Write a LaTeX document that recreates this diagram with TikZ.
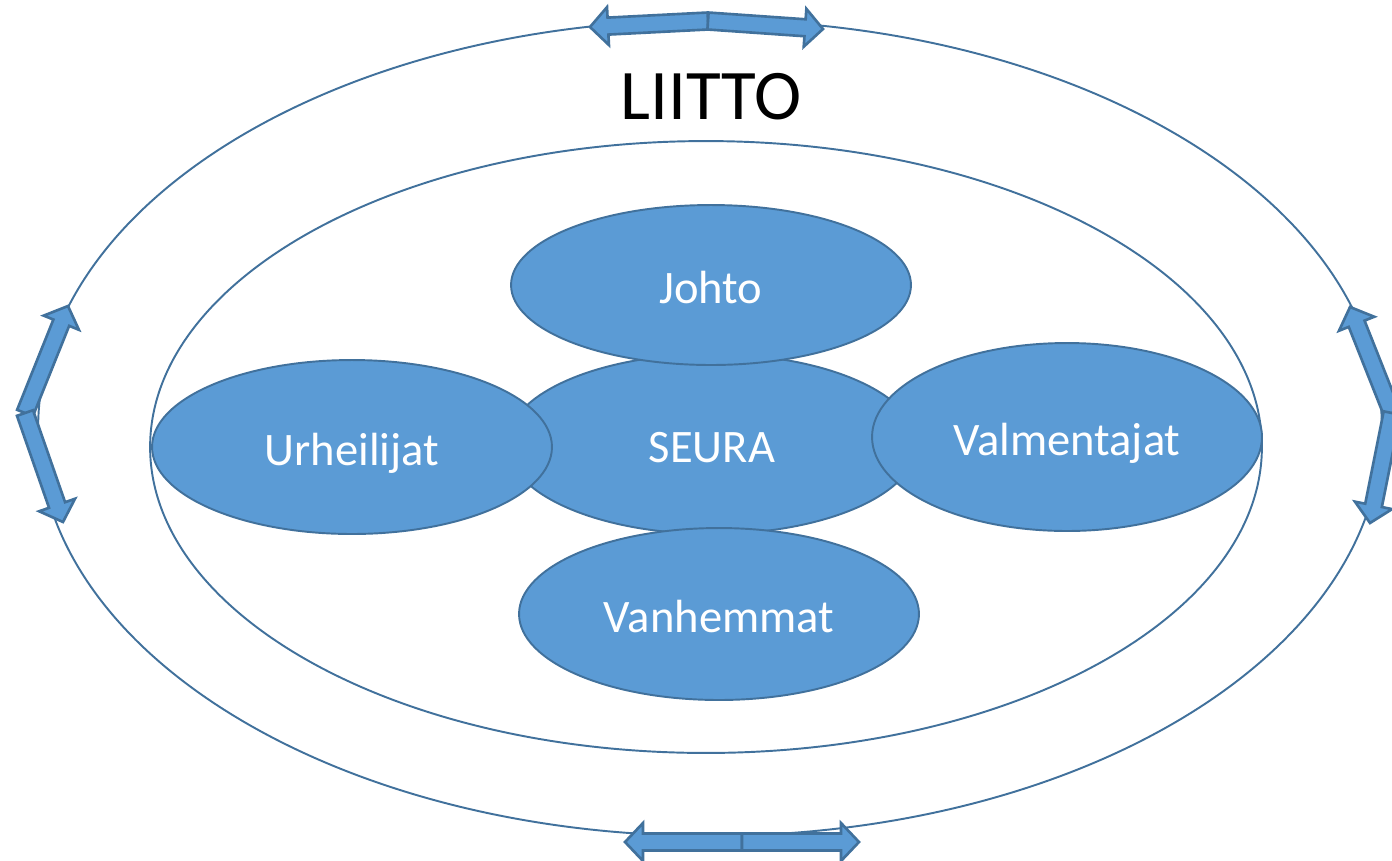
\documentclass[tikz,border=0pt]{standalone}
\usepackage{fontspec}
\setmainfont{Carlito}
\usetikzlibrary{shapes.geometric}
\definecolor{bfill}{HTML}{5B9BD5}
\definecolor{bline}{HTML}{41719C}
\tikzset{
  ring/.style={ellipse, draw=bline, line width=1.1pt, inner sep=0pt},
  blob/.style={ellipse, draw=bline, fill=bfill, line width=1.1pt, inner sep=0pt,
    text=white, font=\fontsize{26.5}{30}\selectfont, text height=21.6pt, text depth=0pt},
  barrow/.style={draw=bline, fill=bfill, line width=1.5pt, line join=miter}
}
\newcommand\blockarrow[4]{%
  \pgfmathsetmacro\baang{atan2(#2-#4,#3-#1)}%
  \pgfmathsetmacro\balen{veclen(#3-#1,#4-#2)}%
  \begin{scope}[shift={(#1,#2)},rotate=\baang]
    \draw[barrow] (0,-8.5) -- (\balen-18,-8.5) -- (\balen-18,-19) -- (\balen,0)
      -- (\balen-18,19) -- (\balen-18,8.5) -- (0,8.5) -- cycle;
  \end{scope}}
\begin{document}
\begin{tikzpicture}[x=0.02cm,y=-0.02cm]
\useasboundingbox (0,0) rectangle (1392,860);
\node[ring, minimum width=26.88cm, minimum height=16.32cm] (liitto) at (710,428) {};
\node[ring, minimum width=22.24cm, minimum height=12.24cm] (inner) at (706,447) {};
\node[font=\fontsize{40.5}{44}\selectfont, inner sep=0pt] (liittolabel) at (711,97) {LIITTO};
\node[blob, minimum width=8.2cm, minimum height=3.6cm] (seura) at (712,444) {SEURA};
\node[blob, minimum width=8cm, minimum height=3.2cm] (johto) at (711,285) {Johto};
\node[blob, minimum width=8cm, minimum height=3.48cm] (urh) at (352,447) {Urheilijat};
\node[blob, minimum width=7.8cm, minimum height=3.76cm] (valm) at (1067,437) {Valmentajat};
\node[blob, minimum width=8cm, minimum height=3.44cm] (vanh) at (719,614) {Vanhemmat};
% top pair
\blockarrow{708}{21}{590}{27}
\blockarrow{708}{21}{823}{29}
% bottom pair
\blockarrow{742}{842}{625}{842}
\blockarrow{742}{842}{859}{842}
% left pair
\blockarrow{25}{413}{68}{306}
\blockarrow{25}{413}{63}{522}
% right pair
\blockarrow{1392}{413}{1350}{307}
\blockarrow{1392}{413}{1370}{523}
\end{tikzpicture}
\end{document}
